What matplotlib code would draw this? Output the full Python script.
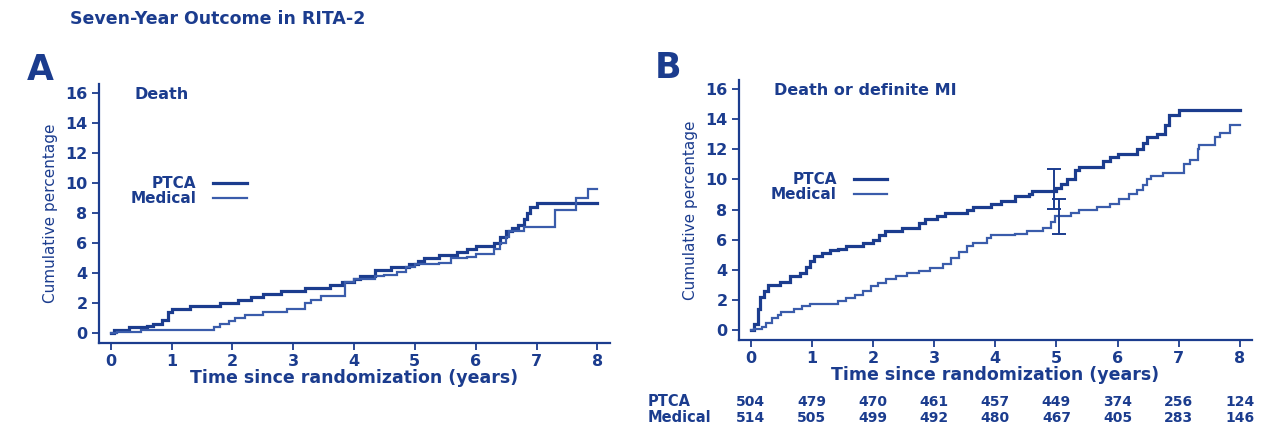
import matplotlib
matplotlib.use("Agg")
import matplotlib.pyplot as plt
import matplotlib.transforms as mtransforms

plt.rcParams['font.family'] = ['DejaVu Sans']

# ---------------- data ----------------
years_ticks = [0, 1, 2, 3, 4, 5, 6, 7, 8]
pct_ticks = [0, 2, 4, 6, 8, 10, 12, 14, 16]

# Panel A: Death
A_ptca_t = [0, 0.05, 0.3, 0.6, 0.7, 0.85, 0.95, 1.0, 1.3, 1.8, 2.1, 2.3, 2.5, 2.8, 3.2,
            3.6, 3.8, 4.0, 4.1, 4.35, 4.6, 4.9, 5.05, 5.15, 5.4, 5.7, 5.85, 6.0, 6.3, 6.4,
            6.5, 6.6, 6.7, 6.8, 6.85, 6.9, 7.0, 8.0]
A_ptca_v = [0, 0.2, 0.4, 0.5, 0.6, 0.9, 1.4, 1.6, 1.8, 2.0, 2.2, 2.4, 2.6, 2.8, 3.0,
            3.2, 3.4, 3.6, 3.8, 4.2, 4.4, 4.6, 4.8, 5.0, 5.2, 5.4, 5.6, 5.8, 6.0, 6.4,
            6.8, 7.0, 7.2, 7.6, 8.0, 8.4, 8.7, 8.7]
A_med_t = [0, 0.1, 0.5, 1.7, 1.8, 1.95, 2.05, 2.2, 2.5, 2.9, 3.2, 3.3, 3.45, 3.85, 4.0,
           4.35, 4.5, 4.7, 4.85, 5.0, 5.4, 5.6, 5.85, 6.0, 6.3, 6.4, 6.5, 6.55, 6.8, 7.3,
           7.65, 7.85, 8.0]
A_med_v = [0, 0.1, 0.2, 0.4, 0.6, 0.8, 1.0, 1.2, 1.4, 1.6, 2.0, 2.2, 2.5, 3.4, 3.6,
           3.8, 3.9, 4.1, 4.4, 4.6, 4.7, 5.0, 5.05, 5.3, 5.6, 6.0, 6.4, 6.8, 7.05, 8.2,
           9.0, 9.6, 9.6]

# Panel B: Death or definite MI
B_ptca_t = [0, 0.05, 0.12, 0.15, 0.22, 0.28, 0.48, 0.64, 0.8, 0.9, 0.97, 1.04, 1.17, 1.3,
            1.43, 1.56, 1.83, 2.0, 2.1, 2.2, 2.48, 2.75, 2.85, 3.04, 3.17, 3.53, 3.63,
            3.93, 4.1, 4.32, 4.55, 4.6, 5.0, 5.08, 5.18, 5.3, 5.37, 5.77, 5.87, 6.0, 6.32,
            6.42, 6.49, 6.65, 6.78, 6.85, 7.01, 8.0]
B_ptca_v = [0, 0.4, 1.4, 2.2, 2.6, 3.0, 3.2, 3.6, 3.8, 4.2, 4.6, 4.9, 5.1, 5.3,
            5.4, 5.6, 5.8, 6.0, 6.3, 6.6, 6.8, 7.1, 7.4, 7.6, 7.8, 8.0, 8.2,
            8.4, 8.6, 8.9, 9.0, 9.2, 9.4, 9.7, 10.0, 10.6, 10.8, 11.2, 11.5, 11.7, 12.0,
            12.4, 12.8, 13.0, 13.6, 14.3, 14.6, 14.6]
B_med_t = [0, 0.05, 0.18, 0.25, 0.35, 0.45, 0.5, 0.71, 0.84, 0.97, 1.43, 1.56, 1.7, 1.83,
           1.96, 2.09, 2.22, 2.38, 2.55, 2.75, 2.94, 3.14, 3.27, 3.4, 3.53, 3.63, 3.86,
           3.93, 4.32, 4.52, 4.78, 4.91, 4.98, 5.24, 5.37, 5.67, 5.87, 6.03, 6.19, 6.32,
           6.42, 6.49, 6.55, 6.75, 7.08, 7.18, 7.31, 7.34, 7.6, 7.67, 7.84, 8.0]
B_med_v = [0, 0.1, 0.2, 0.5, 0.8, 1.0, 1.2, 1.4, 1.6, 1.7, 1.9, 2.1, 2.3, 2.6,
           2.9, 3.1, 3.4, 3.6, 3.8, 3.9, 4.1, 4.4, 4.8, 5.2, 5.6, 5.8, 6.1,
           6.3, 6.4, 6.6, 6.8, 7.2, 7.6, 7.8, 8.0, 8.2, 8.4, 8.7, 9.0, 9.3,
           9.6, 10.0, 10.2, 10.4, 11.0, 11.3, 12.0, 12.3, 12.8, 13.1, 13.6, 13.6]

# 5-year confidence intervals (panel B)
B_err_x = [4.96, 5.04]
B_err_mid = [9.2, 7.6]
B_err_lo = [8.05, 6.4]
B_err_hi = [10.7, 8.7]

# Numbers at risk
risk_labels = ["PTCA", "Medical"]
risk_ptca = [504, 479, 470, 461, 457, 449, 374, 256, 124]
risk_med = [514, 505, 499, 492, 480, 467, 405, 283, 146]

# ---------------- style ----------------
C_TEXT = '#1b3c8e'
C_PTCA = '#1b3c8e'
C_MED = '#3a5cab'

W, H = 1270, 425
fig = plt.figure(figsize=(W / 100, H / 100), dpi=100)


def px_axes(left, top, right, bottom):
    return fig.add_axes([left / W, 1 - bottom / H, (right - left) / W, (bottom - top) / H])


axA = px_axes(98.5, 84, 609.5, 343)
axB = px_axes(738.5, 80, 1252, 340)

for ax, pt, pv, mt, mv, label in [
        (axA, A_ptca_t, A_ptca_v, A_med_t, A_med_v, "Death"),
        (axB, B_ptca_t, B_ptca_v, B_med_t, B_med_v, "Death or definite MI")]:
    ax.step(pt, pv, where='post', color=C_PTCA, lw=2.3, label="PTCA", solid_joinstyle='miter')
    ax.step(mt, mv, where='post', color=C_MED, lw=1.6, label="Medical", solid_joinstyle='miter')
    ax.set_xlim(-0.2, 8.2)
    ax.set_ylim(-0.66, 16.6)
    ax.set_xticks(years_ticks)
    ax.set_yticks(pct_ticks)
    for s in ['top', 'right']:
        ax.spines[s].set_visible(False)
    for s in ['left', 'bottom']:
        ax.spines[s].set_color(C_TEXT)
        ax.spines[s].set_linewidth(1.6)
    ax.tick_params(axis='both', colors=C_TEXT, direction='out', length=5, width=1.3,
                   labelsize=11.5, pad=3)
    for t in ax.get_xticklabels() + ax.get_yticklabels():
        t.set_fontweight('bold')
    ax.set_ylabel("Cumulative percentage", color=C_TEXT, fontsize=11, labelpad=5)
    ax.set_xlabel("Time since randomization (years)", color=C_TEXT, fontsize=12.5,
                  fontweight='bold', labelpad=0)
    ax.text(0.07, 0.99, label, transform=ax.transAxes, color=C_TEXT, fontsize=11.5,
            fontweight='bold', va='top', ha='left')
    leg = ax.legend(loc='center right', frameon=False, markerfirst=False,
                    handlelength=2.2, handletextpad=1.1, labelspacing=0.0,
                    borderpad=0, borderaxespad=0, fontsize=11)
    for t in leg.get_texts():
        t.set_color(C_TEXT)
        t.set_fontweight('bold')
    ax._leg = leg

axA._leg.set_bbox_to_anchor((0.29, 0.585), transform=axA.transAxes)
axB._leg.set_bbox_to_anchor((0.29, 0.588), transform=axB.transAxes)

# error bars at 5 years
axB.errorbar(B_err_x, B_err_mid,
             yerr=[[m - l for m, l in zip(B_err_mid, B_err_lo)],
                   [h - m for m, h in zip(B_err_mid, B_err_hi)]],
             fmt='none', ecolor=C_PTCA, elinewidth=1.4, capsize=5, capthick=1.4)

# numbers at risk
trB = mtransforms.blended_transform_factory(axB.transData, axB.transAxes)
for row, (lab, vals) in enumerate(zip(risk_labels, [risk_ptca, risk_med])):
    yy = -0.238 - row * 0.062
    fig.text(648 / W, 1 - (402 + row * 16) / H, lab, color=C_TEXT, fontsize=10.5,
             fontweight='bold', ha='left', va='center')
    for x, v in zip(years_ticks, vals):
        axB.text(x, yy, str(v), transform=trB, color=C_TEXT, fontsize=10,
                 fontweight='bold', ha='center', va='center')

# titles
fig.text(70 / W, 1 - 19 / H, "Seven-Year Outcome in RITA-2", color=C_TEXT, fontsize=12.5,
         fontweight='bold', ha='left', va='center')
fig.text(27 / W, 1 - 70 / H, "A", color=C_TEXT, fontsize=25, fontweight='bold',
         ha='left', va='center')
fig.text(655 / W, 1 - 68 / H, "B", color=C_TEXT, fontsize=25, fontweight='bold',
         ha='left', va='center')

fig.savefig("out.png", dpi=100)
